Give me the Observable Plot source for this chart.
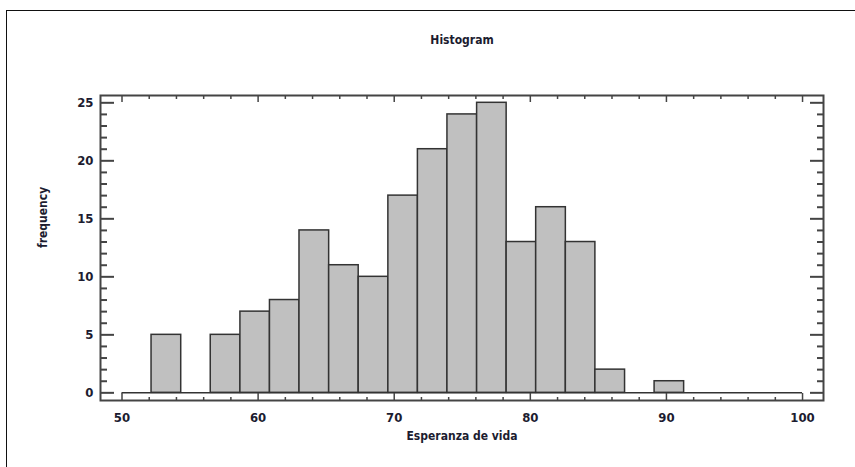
<!DOCTYPE html>
<html>
<head>
<meta charset="utf-8">
<script src="https://cdn.jsdelivr.net/npm/d3@7"></script>
<script src="https://cdn.jsdelivr.net/npm/@observablehq/plot@0.6"></script>
<style>
  html, body { margin: 0; padding: 0; background: #fff; }
  #wrap { position: relative; width: 855px; height: 467px; overflow: hidden; }
  #border { position: absolute; left: 6px; top: 10px; width: 900px; height: 500px;
            border-left: 1.5px solid #111; border-top: 1.5px solid #111; }
  #chart { position: absolute; left: 0; top: 0; }
  svg text { font-family: "Liberation Sans Narrow", "DejaVu Sans Condensed", "Arial Narrow", sans-serif; font-weight: bold; }
</style>
</head>
<body>
<div id="wrap"><div id="border"></div><div id="chart"></div></div>
<script>
// Data
const binLower = [50, 52.17, 54.35, 56.52, 58.70, 60.87, 63.04, 65.22, 67.39, 69.57, 71.74, 73.91,
                  76.09, 78.26, 80.43, 82.61, 84.78, 86.96, 89.13, 91.30, 93.48, 95.65, 97.83];
const binUpper = [52.17, 54.35, 56.52, 58.70, 60.87, 63.04, 65.22, 67.39, 69.57, 71.74, 73.91, 76.09,
                  78.26, 80.43, 82.61, 84.78, 86.96, 89.13, 91.30, 93.48, 95.65, 97.83, 100];
const counts   = [0, 5, 0, 5, 7, 8, 14, 11, 10, 17, 21, 24, 25, 13, 16, 13, 2, 0, 1, 0, 0, 0, 0];

const xMajorTicks = [50, 60, 70, 80, 90, 100];
const xMinorTicks = [52, 54, 56, 58, 62, 64, 66, 68, 72, 74, 76, 78, 82, 84, 86, 88, 92, 94, 96, 98];
const yMajorTicks = [0, 5, 10, 15, 20, 25];
const yMinorTicks = [1, 2, 3, 4, 6, 7, 8, 9, 11, 12, 13, 14, 16, 17, 18, 19, 21, 22, 23, 24];

const xDomain = [48.42, 101.54];
const yDomain = [-0.66, 25.63];
const histRange = [{x1: 50, x2: 100, y: 0}];

const titleText = "Histogram";
const xLabel = "Esperanza de vida";
const yLabel = "frequency";

const bins = binLower.map((x1, i) => ({x1, x2: binUpper[i], count: counts[i]}));

const ink = "#1c1c30";
const tickInk = "#444";
const noText = () => "";

const plot = Plot.plot({
  width: 855,
  height: 467,
  marginLeft: 100,
  marginRight: 32,
  marginTop: 95,
  marginBottom: 67,
  style: {background: "transparent", overflow: "visible"},
  x: {domain: xDomain},
  y: {domain: yDomain},
  marks: [
    Plot.rectY(bins.filter(d => d.count > 0), {
      x1: "x1", x2: "x2", y1: 0, y2: "count",
      fill: "#c0c0c0", stroke: "#333", strokeWidth: 1.5
    }),
    Plot.ruleY(histRange, {x1: "x1", x2: "x2", y: "y", stroke: "#333", strokeWidth: 1.5}),
    // inward tick marks
    Plot.axisY(yMajorTicks, {anchor: "left", tickSize: -14, tickFormat: noText, label: null, stroke: tickInk, strokeWidth: 2}),
    Plot.axisY(yMinorTicks, {anchor: "left", tickSize: -7, tickFormat: noText, label: null, stroke: tickInk, strokeWidth: 2}),
    Plot.axisY(yMajorTicks, {anchor: "right", tickSize: -14, tickFormat: noText, label: null, stroke: tickInk, strokeWidth: 2}),
    Plot.axisY(yMinorTicks, {anchor: "right", tickSize: -7, tickFormat: noText, label: null, stroke: tickInk, strokeWidth: 2}),
    Plot.axisX(xMajorTicks, {anchor: "bottom", tickSize: -7, tickFormat: noText, label: null, stroke: tickInk, strokeWidth: 1.5}),
    Plot.axisX(xMinorTicks, {anchor: "bottom", tickSize: -3, tickFormat: noText, label: null, stroke: tickInk, strokeWidth: 1.5}),
    Plot.axisX(xMajorTicks, {anchor: "top", tickSize: -6, tickFormat: noText, label: null, stroke: tickInk, strokeWidth: 1.5}),
    Plot.axisX(xMinorTicks, {anchor: "top", tickSize: -3, tickFormat: noText, label: null, stroke: tickInk, strokeWidth: 1.5}),
    // tick labels
    Plot.axisY(yMajorTicks, {anchor: "left", tickSize: 0, tickPadding: 7, label: null, fontSize: 13, fill: ink}),
    Plot.axisX(xMajorTicks, {anchor: "bottom", tickSize: 0, tickPadding: 12, label: null, fontSize: 13, fill: ink}),
    Plot.frame({stroke: "#444", strokeWidth: 2}),
    // titles
    Plot.text([titleText], {frameAnchor: "top", dy: -60, fontSize: 12, fill: ink}),
    Plot.text([xLabel], {frameAnchor: "bottom", dy: 39, fontSize: 12, fill: ink}),
    Plot.text([yLabel], {frameAnchor: "left", dx: -57, rotate: -90, fontSize: 12, fill: ink})
  ]
});
document.getElementById("chart").appendChild(plot);
</script>
</body>
</html>
